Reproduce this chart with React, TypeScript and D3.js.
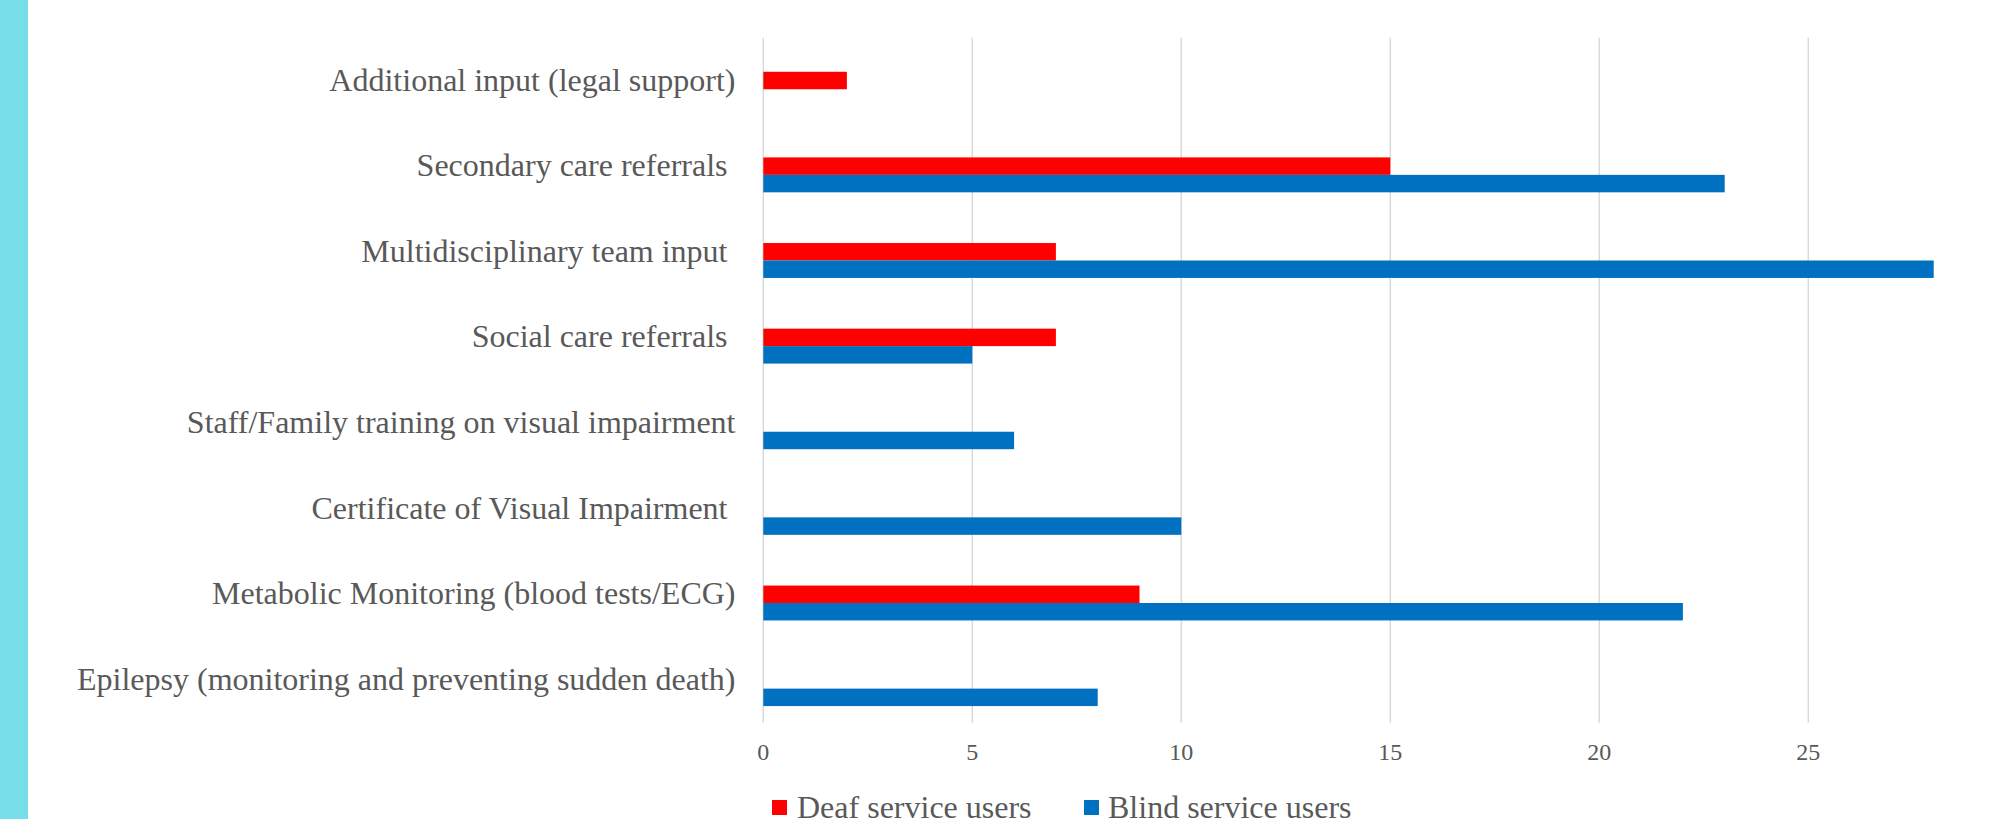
import React from "react";
import * as d3 from "d3";

const categories = [
  "Additional input (legal support)",
  "Secondary care referrals ",
  "Multidisciplinary team input ",
  "Social care referrals ",
  "Staff/Family training on visual impairment",
  "Certificate of Visual Impairment ",
  "Metabolic Monitoring (blood tests/ECG)",
  "Epilepsy (monitoring and preventing sudden death)",
];
const deafValues = [2, 15, 7, 7, 0, 0, 9, 0];
const blindValues = [0, 23, 28, 5, 6, 10, 22, 8];
const seriesNames = ["Deaf service users", "Blind service users"];
const seriesColors = ["#FF0000", "#0070C0"];
const tickValues = [0, 5, 10, 15, 20, 25];

const W = 2001;
const H = 819;
const TEXT = "#595959";
const FONT = "'Liberation Serif', 'Times New Roman', serif";

export default function App() {
  const x = d3.scaleLinear().domain([0, 30]).range([763.3, 763.3 + 30 * 41.8]);
  const y = d3.scaleBand<string>().domain(categories).range([37.7, 722.7]).padding(0);
  const slots = ["(empty)", seriesNames[0], seriesNames[1]];
  const sub = d3.scaleBand<string>().domain(slots).range([0, y.bandwidth()]).paddingInner(0).paddingOuter(0.953);
  const series = [deafValues, blindValues];

  return (
    <svg width={W} height={H} style={{ position: "absolute", left: 0, top: 0, background: "#fff" }}>
      <rect x={0} y={0} width={W} height={H} fill="#fff" />
      <rect x={0} y={0} width={28} height={H} fill="#76DEE9" />
      {x.ticks(6).map((t) => (
        <line key={"g" + t} x1={x(t)} x2={x(t)} y1={y.range()[0]} y2={y.range()[1]} stroke="#D9D9D9" strokeWidth={1.5} />
      ))}
      {categories.map((c, i) => (
        <g key={c}>
          {series.map((vals, s) =>
            vals[i] > 0 ? (
              <rect
                key={s}
                x={x(0)}
                y={(y(c) as number) + (sub(seriesNames[s]) as number)}
                width={x(vals[i]) - x(0)}
                height={sub.bandwidth()}
                fill={seriesColors[s]}
              />
            ) : null
          )}
          <text
            x={735.5}
            y={(y(c) as number) + y.bandwidth() / 2 + 10}
            textAnchor="end"
            fontFamily={FONT}
            fontSize={32}
            fill={TEXT}
            style={{ whiteSpace: "pre" }}
          >
            {c}
          </text>
        </g>
      ))}
      {tickValues.map((t) => (
        <text key={"t" + t} x={x(t)} y={760} textAnchor="middle" fontFamily={FONT} fontSize={24} fill={TEXT}>
          {t}
        </text>
      ))}
      <g>
        <rect x={772} y={800} width={15} height={15} fill={seriesColors[0]} />
        <text x={797} y={818} fontFamily={FONT} fontSize={32} fill={TEXT}>
          {seriesNames[0]}
        </text>
        <rect x={1084} y={800} width={15} height={15} fill={seriesColors[1]} />
        <text x={1108} y={818} fontFamily={FONT} fontSize={32} fill={TEXT}>
          {seriesNames[1]}
        </text>
      </g>
    </svg>
  );
}
